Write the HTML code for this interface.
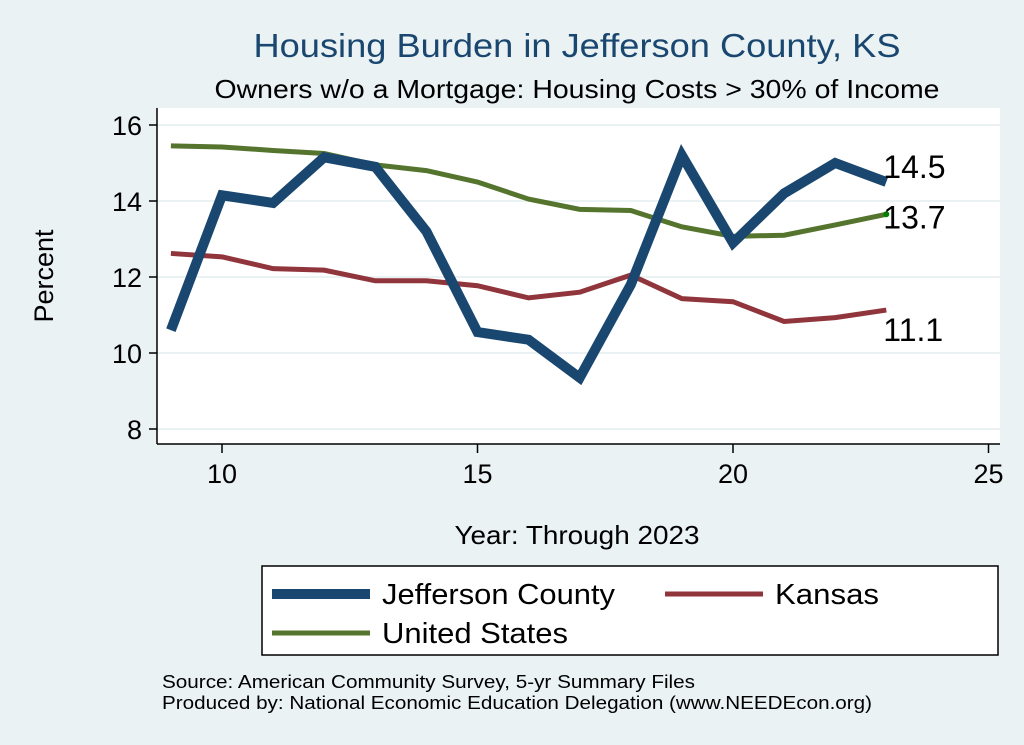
<!DOCTYPE html>
<html><head><meta charset="utf-8">
<style>
body{margin:0;background:#eaf2f3;}
svg{display:block;font-family:"Liberation Sans",Arial,sans-serif;}
</style></head>
<body>
<svg id="chart" width="1024" height="745" viewBox="0 0 1024 745">
<rect width="1024" height="745" fill="#eaf2f3"/>
<text x="577" y="57" text-anchor="middle" font-size="33" textLength="647" lengthAdjust="spacingAndGlyphs" fill="#1a476f">Housing Burden in Jefferson County, KS</text>
<text x="577" y="98" text-anchor="middle" font-size="26" textLength="725" lengthAdjust="spacingAndGlyphs" fill="#000">Owners w/o a Mortgage: Housing Costs &gt; 30% of Income</text>
<rect x="157" y="108" width="843" height="336" fill="#fff"/>
<g id="grid"></g>
<g id="axes"></g>
<g id="series"></g>
<text transform="translate(53,276) rotate(-90)" text-anchor="middle" font-size="27">Percent</text>
<text x="577" y="544" text-anchor="middle" font-size="26" textLength="245" lengthAdjust="spacingAndGlyphs">Year: Through 2023</text>
<g>
<rect x="262" y="566" width="736" height="89" fill="#fff" stroke="#000" stroke-width="1.5"/>
<g><line x1="272" y1="594" x2="370" y2="594" stroke="#1a476f" stroke-width="10"/><text x="382" y="604" font-size="29" textLength="233" lengthAdjust="spacingAndGlyphs">Jefferson County</text></g>
<g><line x1="665" y1="594" x2="763" y2="594" stroke="#90353b" stroke-width="5"/><text x="775" y="604" font-size="29" textLength="104" lengthAdjust="spacingAndGlyphs">Kansas</text></g>
<g><line x1="272" y1="633" x2="370" y2="633" stroke="#55752f" stroke-width="5"/><text x="382" y="643" font-size="29" textLength="186" lengthAdjust="spacingAndGlyphs">United States</text></g>
</g>
<text x="162" y="688" font-size="18" textLength="533" lengthAdjust="spacingAndGlyphs">Source: American Community Survey, 5-yr Summary Files</text>
<text x="162" y="709" font-size="18" textLength="710" lengthAdjust="spacingAndGlyphs">Produced by: National Economic Education Delegation (www.NEEDEcon.org)</text>
</svg>
<script>
const years=[9,10,11,12,13,14,15,16,17,18,19,20,21,22,23];
const jefferson=[10.6,14.15,13.95,15.15,14.9,13.2,10.55,10.35,9.35,11.8,15.2,12.9,14.2,15.0,14.5];
const kansas=[12.62,12.53,12.22,12.18,11.9,11.9,11.77,11.45,11.6,12.05,11.43,11.35,10.83,10.93,11.13];
const us=[15.45,15.42,15.33,15.25,14.95,14.8,14.5,14.05,13.78,13.75,13.32,13.07,13.1,13.37,13.65];
const yTicks=[8,10,12,14,16];
const xTicks=[10,15,20,25];
const endLabels=["14.5","13.7","11.1"];
const NS="http://www.w3.org/2000/svg";
const xs=v=>222+(v-10)*51.1;
const ys=v=>125+(16-v)*38;
function mk(tag,attrs,parent){const e=document.createElementNS(NS,tag);for(const k in attrs)e.setAttribute(k,attrs[k]);parent.appendChild(e);return e;}
const grid=document.getElementById('grid'),axes=document.getElementById('axes'),ser=document.getElementById('series');
yTicks.forEach(t=>{
 const g=mk('line',{x1:157,x2:1000,y1:ys(t),y2:ys(t),stroke:'#eaf2f3','stroke-width':2},grid);
 
 
 const tk=mk('line',{x1:149,x2:157,y1:ys(t),y2:ys(t),stroke:'#000','stroke-width':1.5},axes);
 
 
 const tx=mk('text',{x:142,y:ys(t)+10,'text-anchor':'end','font-size':27},axes);
 tx.textContent=t;
 
 
});
xTicks.forEach(t=>{
 const tk=mk('line',{x1:xs(t),x2:xs(t),y1:444,y2:453,stroke:'#000','stroke-width':1.5},axes);
 
 
 const tx=mk('text',{x:xs(t),y:483,'text-anchor':'middle','font-size':27},axes);
 tx.textContent=t;
 
 
});
const ya=mk('line',{x1:157,x2:157,y1:108,y2:444,stroke:'#000','stroke-width':1.5},axes);


const xa=mk('line',{x1:157,x2:1000,y1:444,y2:444,stroke:'#000','stroke-width':1.5},axes);


function line(vals,color,w,name){
 const p=mk('polyline',{points:vals.map((v,i)=>xs(years[i])+','+ys(v)).join(' '),fill:'none',stroke:color,'stroke-width':w,'stroke-linejoin':'miter'},ser);
 
 
}
line(us,'#55752f',5,'line-united-states');
line(kansas,'#90353b',5,'line-kansas');
line(jefferson,'#1a476f',10,'line-jefferson-county');
const last=years.length-1;
const dot=mk('circle',{cx:xs(years[last]),cy:ys(us[last]),r:3,fill:'#008000'},ser);


[[jefferson,endLabels[0],-16],[us,endLabels[1],2],[kansas,endLabels[2],19]].forEach(([arr,lab,dy])=>{
 const t=mk('text',{x:xs(years[last])-3,y:ys(arr[last])+12+dy,'font-size':32},ser);
 t.textContent=lab;
 
 
});
</script>
</body></html>
